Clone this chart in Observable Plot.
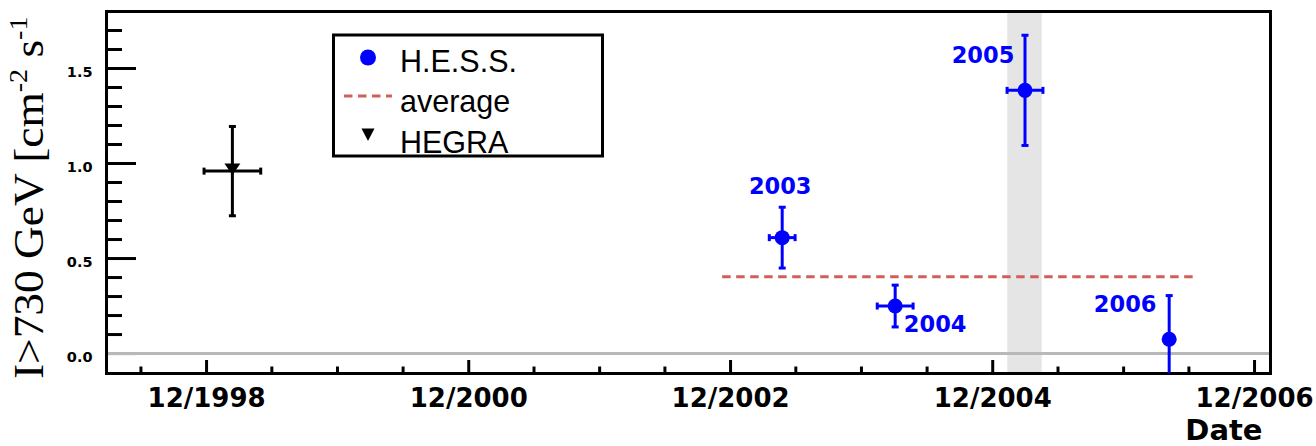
<!DOCTYPE html>
<html>
<head>
<meta charset="utf-8">
<script src="https://cdn.jsdelivr.net/npm/d3@7"></script>
<script src="https://cdn.jsdelivr.net/npm/@observablehq/plot@0.6"></script>
<style>
  body { margin: 0; background: #fff; }
</style>
</head>
<body>
<div id="chart"></div>
<script>
// Integral flux above 730 GeV, one point per observing season.
const hessYears = ["2003", "2004", "2005", "2006"];
const hessDates = ["2003-04-24", "2004-03-04", "2005-03-01", "2006-04-07"];
const hessDateErrDays = [36, 50, 50, 0];
const hessFlux = [0.61, 0.25, 1.385, 0.075];
const hessFluxErr = [0.16, 0.11, 0.29, 0.23];

const hegraDates = ["1999-02-11"];
const hegraDateErrDays = [79];
const hegraFlux = [0.96];
const hegraFluxErr = [0.235];

// Mean H.E.S.S. flux and the period it covers
const averageFlux = 0.404;
const averageSpan = ["2002-11-09", "2006-06-24"];

// Shaded season (2005 flare)
const highlightSpan = ["2005-01-12", "2005-04-18"];

// Axis ticks
const xMajorTicks = ["1998-12-01", "2000-12-01", "2002-12-01", "2004-12-01", "2006-12-01"];
const xMinorTicks = ["1998-06-01", "1999-06-01", "1999-12-01", "2000-06-01", "2001-06-01", "2001-12-01",
  "2002-06-01", "2003-06-01", "2003-12-01", "2004-06-01", "2005-06-01", "2005-12-01", "2006-06-01"];
const yMajorTicks = [0, 0.5, 1.0, 1.5];
const yMinorTicks = [0.1, 0.2, 0.3, 0.4, 0.6, 0.7, 0.8, 0.9, 1.1, 1.2, 1.3, 1.4, 1.6, 1.7];

// ---- layout ----
const W = 1316, H = 446;
const M = {top: 11, right: 46, bottom: 73, left: 106};
const frameW = W - M.left - M.right;
const frameH = H - M.top - M.bottom;
const blue = "#0000ff";
const avgColor = "#d25e5a";
const boldFont = "DejaVu Sans";

const day = 864e5;
const shift = (d, n) => new Date(+d + n * day);

const hess = hessYears.map((label, i) => ({
  label, date: new Date(hessDates[i]), dErr: hessDateErrDays[i], flux: hessFlux[i], err: hessFluxErr[i]
}));
const hegra = hegraDates.map((d, i) => ({
  date: new Date(d), dErr: hegraDateErrDays[i], flux: hegraFlux[i], err: hegraFluxErr[i]
}));

// Small path symbols: error-bar caps and a downward triangle
const radius = size => Math.sqrt(size / Math.PI);
const capH = {draw(ctx, size) { const r = radius(size); ctx.moveTo(-r, 0); ctx.lineTo(r, 0); }};
const capV = {draw(ctx, size) { const r = radius(size); ctx.moveTo(0, -r); ctx.lineTo(0, r); }};
const triangleDown = {draw(ctx, size) {
  const r = radius(size);
  ctx.moveTo(-r, -0.95 * r); ctx.lineTo(r, -0.95 * r); ctx.lineTo(0, 0.5 * r); ctx.closePath();
}};

function errorBars(rows, color) {
  const withX = rows.filter(d => d.dErr > 0);
  const line = {stroke: color, strokeWidth: 3, clip: true};
  const cap = {stroke: color, strokeWidth: 3, fill: "none", r: 3.5, clip: true};
  return [
    Plot.ruleX(rows, {x: "date", y1: d => d.flux - d.err, y2: d => d.flux + d.err, ...line}),
    Plot.dot(rows, {x: "date", y: d => d.flux + d.err, symbol: capH, ...cap}),
    Plot.dot(rows, {x: "date", y: d => d.flux - d.err, symbol: capH, ...cap}),
    Plot.ruleY(withX, {y: "flux", x1: d => shift(d.date, -d.dErr), x2: d => shift(d.date, d.dErr), ...line}),
    Plot.dot(withX, {x: d => shift(d.date, -d.dErr), y: "flux", symbol: capV, ...cap}),
    Plot.dot(withX, {x: d => shift(d.date, d.dErr), y: "flux", symbol: capV, ...cap})
  ];
}

// offsets of the season labels from their points
const labelOffsets = [[-2, -51], [40, 19], [-42, -35], [-44, -34]];

const chart = Plot.plot({
  width: W,
  height: H,
  marginTop: M.top,
  marginRight: M.right,
  marginBottom: M.bottom,
  marginLeft: M.left,
  style: {fontFamily: boldFont, background: "white", overflow: "visible"},
  x: {type: "utc", domain: [new Date("1998-02-25"), new Date("2007-01-14T12:00")]},
  y: {domain: [-0.105, 1.8]},
  marks: [
    Plot.rect([highlightSpan], {x1: d => new Date(d[0]), x2: d => new Date(d[1]), fill: "#e5e5e5"}),
    // inward ticks
    Plot.ruleY(yMajorTicks, {stroke: "black", strokeWidth: 3, insetRight: frameW - 30}),
    Plot.ruleY(yMinorTicks, {stroke: "black", strokeWidth: 3, insetRight: frameW - 16}),
    Plot.ruleX(xMajorTicks.map(d => new Date(d)), {stroke: "black", strokeWidth: 3, insetTop: frameH - 13}),
    Plot.ruleX(xMinorTicks.map(d => new Date(d)), {stroke: "black", strokeWidth: 3, insetTop: frameH - 6.5}),
    Plot.ruleY([0], {stroke: "#b8b8b8", strokeWidth: 3}),
    Plot.frame({stroke: "black", strokeWidth: 3}),
    Plot.axisY({ticks: yMajorTicks, tickSize: 0, tickPadding: 14, tickFormat: d3.format(".1f"),
      fontSize: 14.5, fontWeight: "bold", dy: 4, label: null}),
    Plot.axisX({ticks: xMajorTicks.map(d => new Date(d)), tickSize: 0, tickPadding: 15.5,
      tickFormat: d3.utcFormat("%m/%Y"), fontSize: 26, fontWeight: "bold", label: null}),
    Plot.text(["Date"], {frameAnchor: "bottom-right", textAnchor: "end", dx: -8, dy: 66,
      fontSize: 29, fontWeight: "bold"}),
    // mean flux
    Plot.ruleY([averageFlux], {x1: new Date(averageSpan[0]), x2: new Date(averageSpan[1]),
      stroke: avgColor, strokeWidth: 3, strokeDasharray: "8.5,5.5"}),
    // HEGRA
    ...errorBars(hegra, "black"),
    Plot.dot(hegra, {x: "date", y: "flux", symbol: triangleDown, r: 8, fill: "black", stroke: "none"}),
    // H.E.S.S.
    ...errorBars(hess, blue),
    Plot.dot(hess, {x: "date", y: "flux", r: 7.5, fill: blue, clip: true}),
    ...hess.map((d, i) => Plot.text([d], {x: "date", y: "flux", text: "label",
      dx: labelOffsets[i][0], dy: labelOffsets[i][1], fill: blue, fontSize: 22.5, fontWeight: "bold"}))
  ]
});

const svg = d3.select(chart);

// y-axis title with superscript exponents
const ylab = svg.append("text")
  .attr("transform", "translate(43,379) rotate(-90) scale(1.08,1)")
  .attr("text-anchor", "start")
  .attr("font-family", "'Liberation Serif', 'Times New Roman', serif")
  .attr("font-size", 42)
  .attr("font-weight", "normal")
  .attr("fill", "black");
ylab.append("tspan").text("I>730 GeV [cm");
ylab.append("tspan").attr("font-size", 26).attr("dy", -16).text("-2");
ylab.append("tspan").attr("dy", 16).text(" s");
ylab.append("tspan").attr("font-size", 26).attr("dy", -16).text("-1");

// legend box
const lg = svg.append("g")
  .attr("text-anchor", "start")
  .attr("font-family", "'Liberation Sans', Arial, sans-serif")
  .attr("font-size", 30.5)
  .attr("font-weight", "normal");
lg.append("rect").attr("x", 333.5).attr("y", 35).attr("width", 269).attr("height", 121)
  .attr("fill", "white").attr("stroke", "black").attr("stroke-width", 3);
lg.append("circle").attr("cx", 368).attr("cy", 57.5).attr("r", 8).attr("fill", blue);
lg.append("line").attr("x1", 344).attr("x2", 392).attr("y1", 96).attr("y2", 96)
  .attr("stroke", avgColor).attr("stroke-width", 3).attr("stroke-dasharray", "8.5,5.5");
lg.append("path").attr("d", "M361.5,128.5L374.5,128.5L368,141Z").attr("fill", "black");
const entries = [["H.E.S.S.", 71.7], ["average", 111.7], ["HEGRA", 153.3]];
entries.forEach(([t, y]) => lg.append("text").attr("x", 400).attr("y", y).attr("fill", "black").text(t));

document.getElementById("chart").appendChild(chart);
</script>
</body>
</html>
